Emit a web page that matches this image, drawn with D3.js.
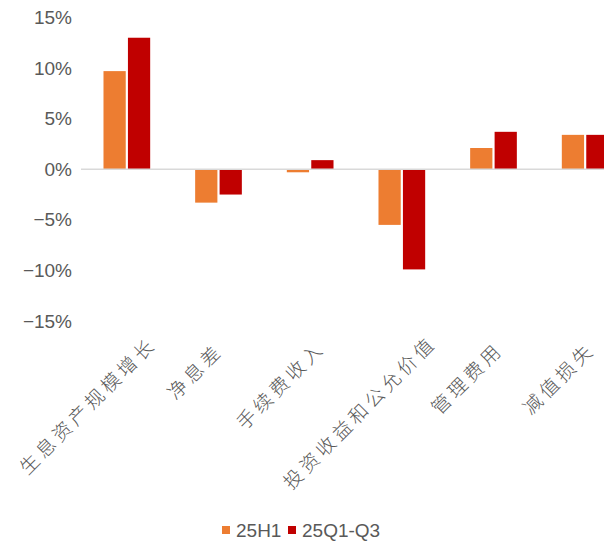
<!DOCTYPE html>
<html>
<head>
<meta charset="utf-8">
<script src="https://cdn.jsdelivr.net/npm/d3@7"></script>
<style>
  html, body { margin: 0; padding: 0; background: #fff; }
  svg { display: block; }
</style>
</head>
<body>
<svg id="chart" width="613" height="543"></svg>
<script>
const categories = ["生息资产规模增长", "净息差", "手续费收入", "投资收益和公允价值", "管理费用", "减值损失"];
const seriesNames = ["25H1", "25Q1-Q3"];
const values25H1 = [9.7, -3.3, -0.3, -5.5, 2.1, 3.4];
const values25Q1Q3 = [13.0, -2.5, 0.9, -9.9, 3.7, 3.4];
const yTicks = [15, 10, 5, 0, -5, -10, -15];
const colors = ["#ED7D31", "#C00000"];

const svg = d3.select("#chart");
const W = 613, H = 543;
const plot = { left: 81, right: 631, top: 17.5, bottom: 321, clipRight: 604 };

const x = d3.scaleBand().domain(categories).range([plot.left, plot.right]).paddingInner(0).paddingOuter(0);
const xs = d3.scaleBand().domain(seriesNames).range([0, x.bandwidth()]).paddingInner(0.09).paddingOuter(0.92);
const y = d3.scaleLinear().domain([-15, 15]).range([plot.bottom, plot.top]);

svg.append("defs").append("clipPath").attr("id", "plotclip")
  .append("rect").attr("x", 0).attr("y", 0).attr("width", plot.clipRight).attr("height", H);

// y tick labels
const fmt = v => (v < 0 ? "\u2212" + Math.abs(v) : String(v)) + "%";
const yAxis = d3.axisLeft(y).tickValues(yTicks).tickFormat(fmt).tickSize(0).tickPadding(0);
const gy = svg.append("g").attr("transform", `translate(72,0)`).call(yAxis);
gy.select(".domain").remove();
gy.selectAll("text")
  .attr("fill", "#595959")
  .style("font-family", "'Liberation Sans', Arial, sans-serif")
  .style("font-size", "19px");

const series = [values25H1, values25Q1Q3];
const g = svg.append("g").attr("clip-path", "url(#plotclip)");

series.forEach((vals, si) => {
  g.selectAll(".bar" + si).data(vals).enter().append("rect")
    .attr("x", (d, i) => x(categories[i]) + xs(seriesNames[si]))
    .attr("width", xs.bandwidth())
    .attr("y", d => d >= 0 ? y(d) : y(0))
    .attr("height", d => Math.abs(y(d) - y(0)))
    .attr("fill", colors[si]);
});

// zero axis line
g.append("line")
  .attr("x1", plot.left).attr("x2", plot.right)
  .attr("y1", y(0)).attr("y2", y(0))
  .attr("stroke", "#d9d9d9").attr("stroke-width", 1.5);

// category labels, rotated
svg.append("g").selectAll("text").data(categories).enter().append("text")
  .attr("transform", d => {
    const n = d.length;
    const cx = x(d) + x.bandwidth() / 2 + 5 * (n - 3);
    const cy = 346 - 1.3 * (n - 3);
    return `translate(${cx},${cy}) rotate(-45)`;
  })
  .attr("text-anchor", "end")
  .attr("dominant-baseline", "central")
  .attr("fill", "#595959")
  .style("font-family", "'Noto Sans CJK SC', sans-serif")
  .style("font-size", "19px")
  .style("font-weight", "300")
  .style("letter-spacing", "4px")
  .text(d => d);

// legend
const legendItems = [
  { name: seriesNames[0], color: colors[0], x: 222 },
  { name: seriesNames[1], color: colors[1], x: 288 }
];
const lg = svg.append("g");
legendItems.forEach(it => {
  lg.append("rect").attr("x", it.x).attr("y", 526).attr("width", 8).attr("height", 8).attr("fill", it.color);
  lg.append("text").attr("x", it.x + 14).attr("y", 530)
    .attr("dominant-baseline", "central")
    .attr("fill", "#595959")
    .style("font-family", "'Liberation Sans', Arial, sans-serif")
    .style("font-size", "19px")
    .text(it.name);
});
</script>
</body>
</html>
